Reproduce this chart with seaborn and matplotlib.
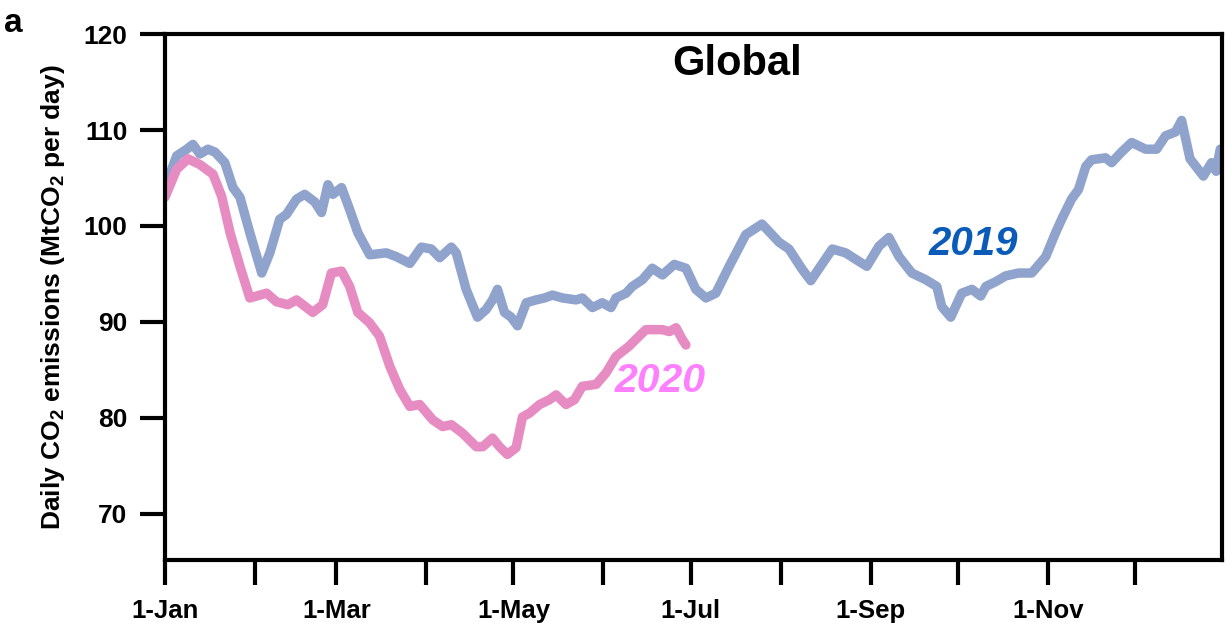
import numpy as np
import pandas as pd
import matplotlib
matplotlib.use("Agg")
import matplotlib.pyplot as plt
import seaborn as sns

# day of year and daily emissions (MtCO2/day)
days_2019 = [0, 4.0, 7.5, 9.6, 12.0, 14.8, 17.2, 20.6, 23.4, 25.8, 29.2, 33.3, 36.1, 39.5,
             41.8, 45.3, 48.1, 51.6, 53.9, 56.1, 57.8, 60.8, 63.6, 66.4, 70.5, 76.2, 79.7,
             84.3, 88.3, 91.7, 94.6, 98.6, 100.3, 103.7, 107.6, 110.6, 112.8, 114.5, 116.9,
             119.2, 121.4, 124.4, 127.8, 130.7, 133.4, 136.9, 141.6, 143.7, 147.2, 150.6,
             153.6, 155.3, 158.8, 160.9, 164.4, 167.8, 171.3, 175.4, 179.4, 182.8, 186.3,
             189.7, 194.3, 200.0, 205.6, 211.5, 214.9, 219.4, 222.4, 225.3, 229.8, 234.4,
             238.0, 241.7, 245.9, 249.3, 252.8, 257.2, 262.0, 265.8, 267.5, 270.6, 274.4,
             277.9, 280.9, 282.7, 286.1, 289.5, 294.0, 298.5, 303.3, 306.7, 308.8, 312.2,
             314.6, 317.1, 319.1, 323.9, 326.0, 329.4, 332.9, 337.7, 341.5, 344.6, 348.0,
             350.1, 353.0, 357.6, 360.4, 362.0, 363.4]
vals_2019 = [104.0, 107.3, 108.0, 108.5, 107.5, 108.0, 107.7, 106.6, 104.0, 103.0, 99.3, 95.1,
             97.2, 100.7, 101.2, 102.8, 103.3, 102.5, 101.4, 104.3, 103.3, 104.0, 101.7, 99.3,
             97.0, 97.2, 96.8, 96.1, 97.8, 97.6, 96.7, 97.8, 97.2, 93.4, 90.5, 91.3, 92.3,
             93.4, 91.0, 90.5, 89.6, 92.0, 92.3, 92.5, 92.8, 92.5, 92.3, 92.5, 91.5, 92.0,
             91.5, 92.5, 93.0, 93.7, 94.4, 95.6, 94.9, 96.0, 95.6, 93.4, 92.5, 93.0, 95.8,
             99.1, 100.2, 98.3, 97.6, 95.5, 94.3, 95.6, 97.6, 97.2, 96.5, 95.8, 97.9, 98.8,
             96.8, 95.1, 94.4, 93.7, 91.6, 90.5, 93.0, 93.4, 92.7, 93.7, 94.2, 94.8, 95.1,
             95.1, 96.8, 99.3, 100.7, 102.8, 103.8, 106.2, 106.9, 107.1, 106.6, 107.7, 108.7,
             108.0, 108.0, 109.4, 109.8, 111.0, 107.0, 105.2, 106.6, 105.7, 108.0]

days_2020 = [0, 4.0, 7.9, 12.0, 16.5, 19.5, 22.4, 25.8, 29.2, 35.0, 38.4, 42.3, 45.3, 50.9,
             54.3, 57.3, 60.8, 63.6, 66.4, 70.5, 73.9, 77.4, 80.8, 84.3, 87.7, 92.2, 95.6,
             98.6, 102.5, 107.2, 109.4, 112.8, 115.2, 117.9, 120.9, 123.1, 125.5, 129.0,
             132.4, 134.7, 138.1, 141.0, 143.7, 148.5, 151.9, 155.3, 159.9, 162.2, 165.6,
             171.3, 173.7, 176.0, 178.1, 179.4]
vals_2020 = [103.0, 105.9, 107.0, 106.4, 105.4, 103.1, 99.3, 95.8, 92.5, 93.0, 92.1, 91.8,
             92.3, 91.0, 91.8, 95.1, 95.3, 93.7, 91.0, 89.9, 88.5, 85.4, 83.0, 81.2, 81.4,
             79.8, 79.1, 79.3, 78.4, 77.0, 77.0, 77.9, 77.0, 76.2, 76.9, 80.1, 80.5, 81.4,
             81.9, 82.4, 81.4, 81.9, 83.3, 83.5, 84.7, 86.4, 87.5, 88.2, 89.2, 89.2, 89.0,
             89.4, 88.2, 87.6]

month_starts = [0, 31, 59, 90, 120, 151, 181, 212, 243, 273, 304, 334]
month_labels = ["1-Jan", "", "1-Mar", "", "1-May", "", "1-Jul", "", "1-Sep", "", "1-Nov", ""]
y_ticks = [70, 80, 90, 100, 110, 120]

df = pd.concat([
    pd.DataFrame({"day": days_2019, "value": vals_2019, "year": "2019"}),
    pd.DataFrame({"day": days_2020, "value": vals_2020, "year": "2020"}),
])

sns.set_style("white")
plt.rcParams["font.family"] = ["Liberation Sans", "DejaVu Sans"]
plt.rcParams["font.weight"] = "bold"
plt.rcParams["text.color"] = "black"
plt.rcParams["axes.labelcolor"] = "black"
plt.rcParams["xtick.color"] = "black"
plt.rcParams["ytick.color"] = "black"
plt.rcParams["mathtext.fontset"] = "custom"
plt.rcParams["mathtext.rm"] = "Liberation Sans:bold"
plt.rcParams["mathtext.bf"] = "Liberation Sans:bold"
plt.rcParams["mathtext.default"] = "rm"

fig = plt.figure(figsize=(12.26, 6.23), dpi=100)
ax = fig.add_axes([0.1346, 0.1011, 0.8621, 0.8443])

sns.lineplot(data=df, x="day", y="value", hue="year",
             palette={"2019": "#8fa3cd", "2020": "#e68cc2"},
             linewidth=6.8, legend=False, ax=ax,
             solid_capstyle="round", solid_joinstyle="round")

ax.set_xlim(0, 364)
ax.set_ylim(65.2, 120)
ax.set_xticks(month_starts)
ax.set_xticklabels(month_labels, fontsize=18.5, fontweight="bold")
ax.set_yticks(y_ticks)
ax.set_yticklabels([str(v) for v in y_ticks], fontsize=19, fontweight="bold")
ax.tick_params(axis="both", direction="out", length=18, width=3, color="black",
               bottom=True, left=True, labelcolor="black")
ax.tick_params(axis="x", pad=10)
ax.tick_params(axis="y", pad=9)
for s in ax.spines.values():
    s.set_linewidth(3)
    s.set_color("black")

ax.set_xlabel("")
ax.set_ylabel("Daily CO$_2$ emissions (MtCO$_2$ per day)", fontsize=19, fontweight="bold",
              color="black")
ax.yaxis.set_label_coords(-0.093, 0.5)

ax.text(0.541, 0.922, "Global", transform=ax.transAxes, ha="center", va="baseline",
        fontsize=30, fontweight="bold", color="black")
ax.text(278.5, 98.1, "2019", color="#0a5cb8", fontsize=29, fontweight="bold",
        fontstyle="italic", ha="center", va="center")
ax.text(170.6, 83.9, "2020", color="#ff80ff", fontsize=29.5, fontweight="bold",
        fontstyle="italic", ha="center", va="center")

fig.text(0.003, 1 - 32 / 623, "a", fontsize=24, fontweight="bold", va="baseline",
         color="black")

fig.savefig("out.png", dpi=100)
